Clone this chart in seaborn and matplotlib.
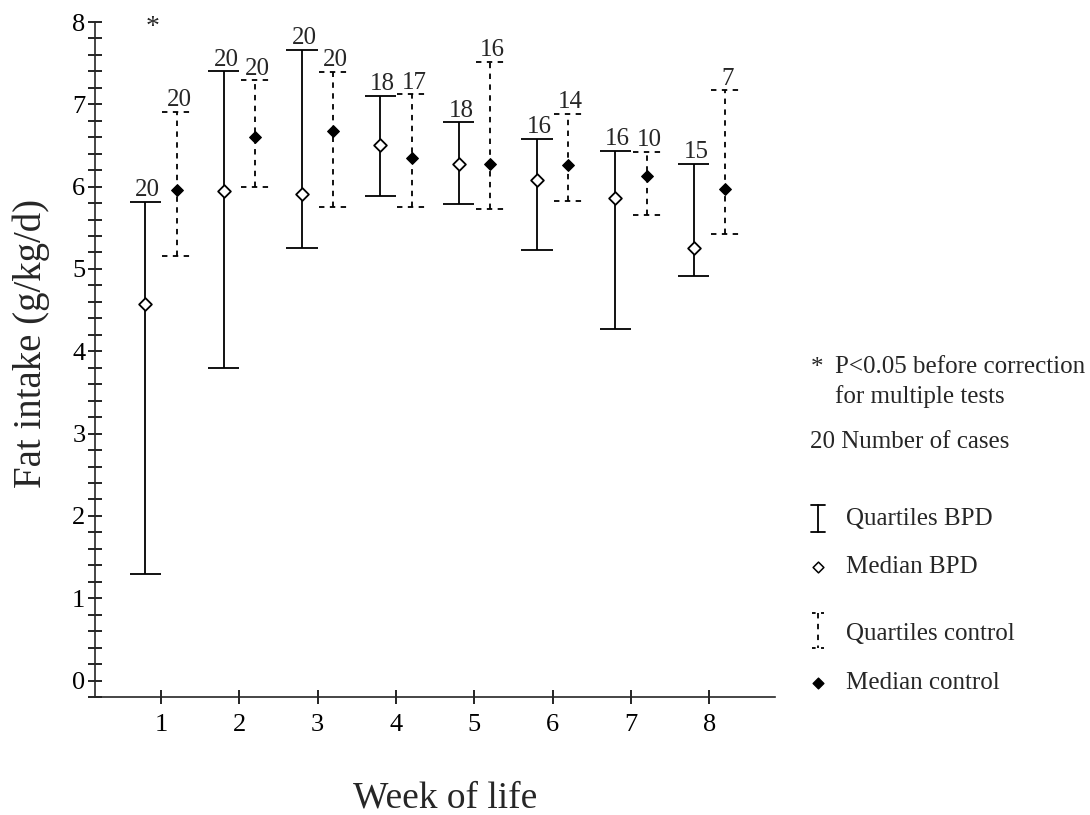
import numpy as np
import pandas as pd
import matplotlib
matplotlib.use("Agg")
import matplotlib.pyplot as plt
from matplotlib.ticker import MultipleLocator
import seaborn as sns

# ---------------- data ----------------
weeks = [1, 2, 3, 4, 5, 6, 7, 8]
bpd_q1 = [1.30, 3.80, 5.25, 5.89, 5.79, 5.23, 4.27, 4.92]
bpd_median = [4.58, 5.95, 5.91, 6.50, 6.27, 6.08, 5.86, 5.25]
bpd_q3 = [5.81, 7.40, 7.66, 7.10, 6.78, 6.58, 6.43, 6.28]
bpd_n = [20, 20, 20, 18, 18, 16, 16, 15]
ctl_q1 = [5.16, 5.99, 5.75, 5.75, 5.73, 5.83, 5.66, 5.42]
ctl_median = [5.96, 6.60, 6.67, 6.35, 6.27, 6.26, 6.13, 5.97]
ctl_q3 = [6.91, 7.29, 7.39, 7.12, 7.52, 6.88, 6.42, 7.17]
ctl_n = [20, 20, 20, 17, 16, 14, 10, 7]
significant = [True, False, False, False, False, False, False, False]

x_labels = ["1", "2", "3", "4", "5", "6", "7", "8"]
y_label = "Fat intake (g/kg/d)"
x_label = "Week of life"

# ---------------- style ----------------
sns.set_theme(style="ticks")
plt.rcParams["font.family"] = ["Liberation Serif", "DejaVu Serif"]
plt.rcParams["axes.linewidth"] = 1.2

fig = plt.figure(figsize=(10.9, 8.15), dpi=100)
ax = fig.add_axes([0.0872, 0.1448, 0.6239, 0.8282])

off = 0.2
cap_b = 0.2
cap_c = 0.18
dash = (0, (3, 3))
lw = 1.3

bpd_x = np.array(weeks) - off
ctl_x = np.array(weeks) + off

df = pd.DataFrame({
    "week": weeks + weeks,
    "x": list(bpd_x) + list(ctl_x),
    "median": bpd_median + ctl_median,
    "group": ["BPD"] * 8 + ["control"] * 8,
})

# quartile whiskers
ax.vlines(bpd_x, bpd_q1, bpd_q3, colors="black", linewidth=lw, zorder=2)
ax.hlines(bpd_q1, bpd_x - cap_b, bpd_x + cap_b, colors="black", linewidth=lw, zorder=2)
ax.hlines(bpd_q3, bpd_x - cap_b, bpd_x + cap_b, colors="black", linewidth=lw, zorder=2)

ax.vlines(ctl_x, ctl_q1, ctl_q3, colors="black", linewidth=lw, linestyles=[dash], zorder=2)
ax.hlines(ctl_q1, ctl_x - cap_c, ctl_x + cap_c, colors="black", linewidth=lw, linestyles=[dash], zorder=2)
ax.hlines(ctl_q3, ctl_x - cap_c, ctl_x + cap_c, colors="black", linewidth=lw, linestyles=[dash], zorder=2)

# medians
sns.scatterplot(data=df[df.group == "BPD"], x="x", y="median", marker="D", s=42,
                facecolor="white", edgecolor="black", linewidth=1.3, ax=ax, zorder=3, legend=False)
sns.scatterplot(data=df[df.group == "control"], x="x", y="median", marker="D", s=36,
                color="black", edgecolor="black", linewidth=0.8, ax=ax, zorder=3, legend=False)

# number of cases
for xx, top, n in zip(bpd_x, bpd_q3, bpd_n):
    ax.text(xx + 0.03, top + 0.01, str(n), ha="center", va="bottom", fontsize=18)
for xx, top, n in zip(ctl_x, ctl_q3, ctl_n):
    ax.text(xx + 0.03, top + 0.01, str(n), ha="center", va="bottom", fontsize=18)

for w, sig in zip(weeks, significant):
    if sig:
        ax.text(w - 0.11, 7.93, "*", ha="center", va="center", fontsize=20)

ax.set_xlim(0.16, 8.84)
ax.set_ylim(-0.2, 8)
ax.set_xticks(weeks)
ax.set_xticklabels(x_labels)
ax.yaxis.set_major_locator(MultipleLocator(1))
ax.yaxis.set_minor_locator(MultipleLocator(0.2))
ax.tick_params(axis="y", which="both", direction="inout", length=10, width=1.2,
               labelsize=19, pad=2, colors="black")
ax.tick_params(axis="x", which="both", direction="inout", length=10, width=1.2,
               labelsize=19, pad=7, colors="black")
sns.despine(ax=ax)
ax.set_ylabel(y_label, fontsize=28)
ax.set_xlabel(x_label, fontsize=27)
ax.yaxis.set_label_coords(-0.066, 0.524)
ax.xaxis.set_label_coords(0.515, -0.125)

# ---------------- legend (pixel coordinates) ----------------
lax = fig.add_axes([0, 0, 1, 1], zorder=5)
lax.set_xlim(0, 1090)
lax.set_ylim(815, 0)
lax.axis("off")
lax.patch.set_alpha(0)

fs = 18
lax.text(817, 368, "*", ha="center", va="center", fontsize=18)
lax.text(835, 367, "P<0.05 before correction", ha="left", va="center", fontsize=fs)
lax.text(835, 397, "for multiple tests", ha="left", va="center", fontsize=fs)
lax.text(810, 442, "20 Number of cases", ha="left", va="center", fontsize=fs)

sx = 818
# quartiles BPD
lax.plot([sx, sx], [505, 532], color="black", lw=lw)
lax.plot([sx - 7, sx + 7], [505, 505], color="black", lw=lw)
lax.plot([sx - 7, sx + 7], [532, 532], color="black", lw=lw)
lax.text(846, 519, "Quartiles BPD", ha="left", va="center", fontsize=fs)
# median BPD
lax.scatter([sx], [567], marker="D", s=30, facecolor="white", edgecolor="black", linewidth=1.1)
lax.text(846, 567, "Median BPD", ha="left", va="center", fontsize=fs)
# quartiles control
lax.plot([sx, sx], [613, 648], color="black", lw=lw, linestyle=dash)
lax.plot([sx - 6, sx + 6], [613, 613], color="black", lw=lw, linestyle=(0, (2, 3)))
lax.plot([sx - 6, sx + 6], [648, 648], color="black", lw=lw, linestyle=(0, (2, 3)))
lax.text(846, 634, "Quartiles control", ha="left", va="center", fontsize=fs)
# median control
lax.scatter([sx], [683], marker="D", s=30, color="black")
lax.text(846, 683, "Median control", ha="left", va="center", fontsize=fs)

fig.savefig("out.png", dpi=100)
